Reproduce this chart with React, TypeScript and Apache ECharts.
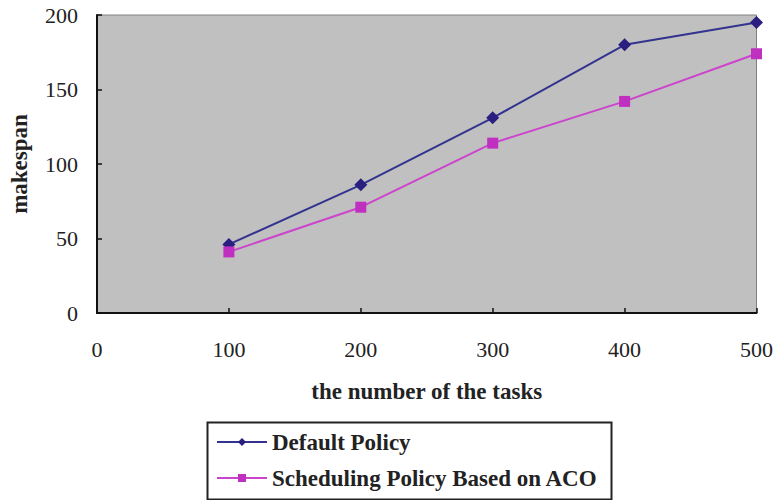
import React, { useEffect, useRef } from "react";
import * as echarts from "echarts";

const tasks = [100, 200, 300, 400, 500];
const defaultPolicy = [46, 86, 131, 180, 195];
const acoPolicy = [41, 71, 114, 142, 174];
const seriesNames = ["Default Policy", "Scheduling Policy Based on ACO"];

const FONT = "'Liberation Serif', 'Times New Roman', serif";

export default function App() {
  const ref = useRef<HTMLDivElement>(null);
  useEffect(() => {
    if (!ref.current) return;
    const chart = echarts.init(ref.current, undefined, { renderer: "svg" });
    chart.setOption({
      animation: false,
      backgroundColor: "#ffffff",
      grid: {
        left: 96,
        right: 19,
        top: 15,
        bottom: 187,
        show: true,
        backgroundColor: "#c0c0c0",
        borderColor: "#808080",
        borderWidth: 1,
      },
      xAxis: {
        type: "value",
        min: 0,
        max: 500,
        interval: 100,
        name: "the number of the tasks",
        nameLocation: "middle",
        nameGap: 67,
        nameTextStyle: { fontFamily: FONT, fontSize: 23, fontWeight: "bold", color: "#222" },
        axisLine: { show: true, onZero: false, lineStyle: { color: "#111", width: 2 } },
        axisTick: { show: true, inside: true, length: 5, lineStyle: { color: "#111", width: 1.5 } },
        axisLabel: { margin: 25, fontFamily: FONT, fontSize: 22, color: "#222" },
        splitLine: { show: false },
      },
      yAxis: {
        type: "value",
        min: 0,
        max: 200,
        interval: 50,
        name: "makespan",
        nameLocation: "middle",
        nameGap: 66,
        nameTextStyle: { fontFamily: FONT, fontSize: 23, fontWeight: "bold", color: "#222" },
        axisLine: { show: true, lineStyle: { color: "#111", width: 2 } },
        axisTick: { show: true, inside: true, length: 5, lineStyle: { color: "#111", width: 1.5 } },
        axisLabel: { margin: 19, fontFamily: FONT, fontSize: 22, color: "#222" },
        splitLine: { show: false },
      },
      legend: {
        orient: "vertical",
        left: 216,
        top: 430,
        itemWidth: 50,
        itemHeight: 10,
        itemGap: 12,
        padding: 0,
        textStyle: { fontFamily: FONT, fontSize: 23, fontWeight: "bold", color: "#222", lineHeight: 24 },
        data: seriesNames,
      },
      graphic: [
        {
          type: "rect",
          left: 205,
          top: 420,
          shape: { width: 404, height: 77 },
          style: { fill: "none", stroke: "#222", lineWidth: 2 },
          z: -1,
        },
      ],
      series: [
        {
          name: seriesNames[0],
          type: "line",
          data: tasks.map((t, i) => [t, defaultPolicy[i]]),
          symbol: "diamond",
          symbolSize: 13,
          lineStyle: { color: "#33338f", width: 2 },
          itemStyle: { color: "#2a1f80" },
        },
        {
          name: seriesNames[1],
          type: "line",
          data: tasks.map((t, i) => [t, acoPolicy[i]]),
          symbol: "rect",
          symbolSize: 11,
          lineStyle: { color: "#cc44cc", width: 2 },
          itemStyle: { color: "#c030c0" },
        },
      ],
    });
    return () => chart.dispose();
  }, []);
  return <div ref={ref} style={{ width: 776, height: 500, position: "absolute", left: 0, top: 0 }} />;
}
